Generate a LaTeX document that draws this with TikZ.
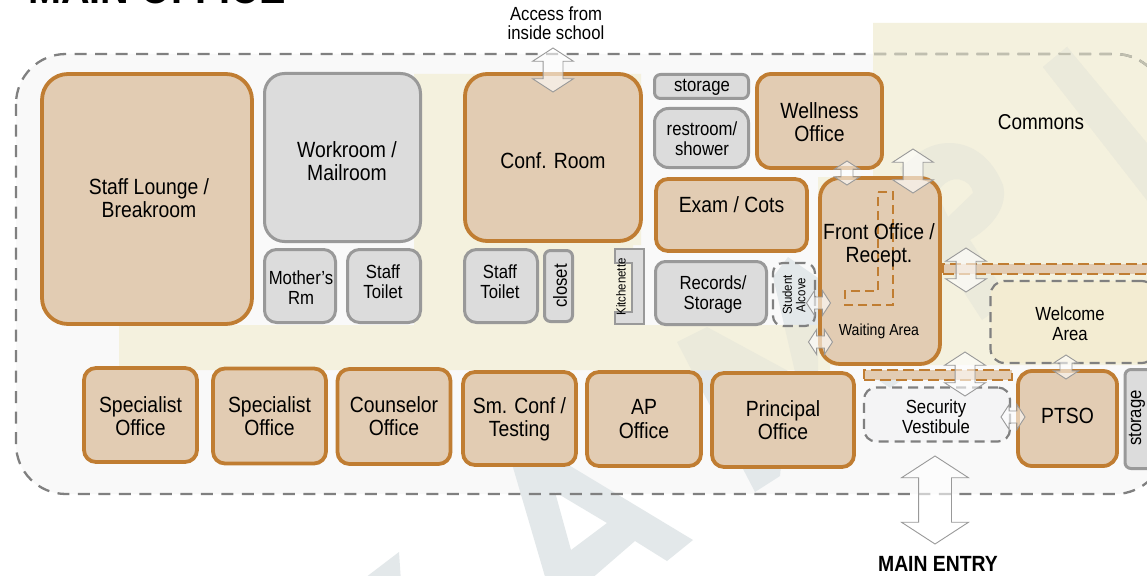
\documentclass[tikz,border=0pt]{standalone}
\usepackage{fontspec}
\setmainfont[FakeStretch=0.88]{Liberation Sans}
\usetikzlibrary{shapes.arrows}
\definecolor{plan-bg}{HTML}{F9F9F9}
\definecolor{plan-beige}{HTML}{F4F1DE}
\definecolor{plan-dash}{HTML}{808080}
\definecolor{plan-fade}{HTML}{C0BFAF}
\definecolor{plan-welcome}{HTML}{F3ECD2}
\definecolor{plan-lobby}{HTML}{F4F4F5}
\definecolor{mark-pale}{HTML}{E3E8EA}
\definecolor{mark-beige}{HTML}{EBEADB}
\definecolor{office-fill}{HTML}{E2CCB3}
\definecolor{office-line}{HTML}{C07D32}
\definecolor{utility-fill}{HTML}{DCDCDC}
\definecolor{utility-line}{HTML}{999999}
\newcommand{\fsize}[1]{\fontsize{#1}{#1}\selectfont\baselineskip=1.05\baselineskip}
% floor outline, commons backdrop, watermark
\newcommand{\floorpath}{(16,54) rectangle (1165,494)}
\newcommand{\commonspath}{(873,23) -- (1147,23) -- (1147,365) -- (830,365) -- (830,370) -- (119,370) -- (119,325) -- (414,325) -- (414,74) -- (641,74) -- (641,245) -- (633,245) -- (633,325) -- (818,325) -- (818,177) -- (873,177) -- cycle}
\newcommand{\markpath}{(500,423) -- (546,580) -- (590,580) -- (635,541) -- (667,561) -- (693,540) -- (572,467) -- cycle
  (555,492) -- (607,523) -- (571,550) -- cycle
  (399,552) -- (340,597) -- (402,597) -- cycle
  (677,342) -- (707,327) -- (790,372) -- (780,476) -- (755,492) -- cycle
  (788,257) -- (818,278) -- (818,372) -- (795,372) -- (773,277) -- cycle
  (875,378) -- (905,378) -- (890,388) -- cycle
  (900,168) -- (920,152) .. controls (945,135) and (985,140) .. (1003,185) .. controls (1008,205) and (995,225) .. (970,240) -- (1010,300) -- (982,320) -- (930,240) -- cycle
  (937,193) -- (948,217) -- (973,193) .. controls (972,180) and (950,170) .. (937,193) -- cycle
  (1067,47) -- (1043,67) -- (1150,204) -- (1150,147) -- cycle}
\tikzset{
  office/.style={draw=office-line, fill=office-fill, line width=3.8pt, align=center, inner sep=0pt, rounded corners=12pt, font=\fsize{22}},
  utility/.style={draw=utility-line, fill=utility-fill, line width=3pt, align=center, inner sep=0pt, rounded corners=12pt, font=\fsize{19}},
  zone/.style={draw=plan-dash, line width=2.2pt, dash pattern=on 10pt off 6pt, align=center, inner sep=0pt, rounded corners=14pt, font=\fsize{19}},
  corridor/.style={draw=office-line, fill=office-fill, line width=2pt, dash pattern=on 11pt off 5pt, inner sep=0pt},
  caption/.style={align=center, inner sep=0pt, font=\fsize{22}},
  smallcaption/.style={align=center, inner sep=0pt, font=\fsize{19}},
  dblarrow/.style={double arrow, draw=utility-line, fill=white, fill opacity=.6, line width=.9pt, inner xsep=0pt, double arrow tip angle=114, double arrow head indent=0pt},
  smallarrow/.style={dblarrow, inner ysep=5.5pt, minimum height=24pt, minimum width=25pt, double arrow head extend=6.5pt},
  bigarrow/.style={dblarrow, inner ysep=9.5pt, minimum height=44pt, minimum width=40pt, double arrow head extend=10.5pt, rotate=90},
}

\begin{document}
\begin{tikzpicture}[x=1pt, y=-1pt]
\useasboundingbox (0,0) rectangle (1147,575);
\clip (0,0) rectangle (1147,575);

% Backdrop
\fill[white] (0,0) rectangle (1147,575);
\fill[plan-bg, rounded corners=50pt] \floorpath;
\fill[mark-pale, even odd rule] \markpath;
\fill[plan-beige] \commonspath;
\begin{scope}
  \clip \commonspath;
  \fill[mark-beige, even odd rule] \markpath;
\end{scope}
\draw[plan-dash, line width=2.3pt, dash pattern=on 12pt off 8.5pt, rounded corners=50pt] \floorpath;
\begin{scope}
  \clip (873,23) rectangle (1147,365);
  \fill[mark-beige] (1067,47) -- (1043,67) -- (1150,204) -- (1150,147) -- cycle;
  \draw[plan-fade, line width=2.3pt, dash pattern=on 12pt off 8.5pt, rounded corners=50pt] \floorpath;
\end{scope}

% Title and outside labels
\node[anchor=base west, inner sep=0pt, font=\bfseries\fsize{45}] (title) at (28,4) {MAIN OFFICE};
\node[smallcaption, font=\fontsize{19}{19}\selectfont] (access) at (556,23.5) {Access from\\inside school};
\node[caption, font=\bfseries\fsize{22}] (entry) at (938,563.5) {MAIN ENTRY};
\node[caption, font=\fsize{21.5}] (commons) at (1041,122) {Commons};

% North block
\node[office, minimum width=210pt, minimum height=250pt, rounded corners=26pt] (lounge) at (147,199) {};
\node[caption] (loungetext) at (149,198) {Staff Lounge /\\Breakroom};
\node[utility, minimum width=156pt, minimum height=168pt, rounded corners=20pt] (workroom) at (342.5,157.5) {};
\node[caption] (workroomtext) at (347,161.5) {Workroom /\\Mailroom};
\node[utility, minimum width=71pt, minimum height=73pt] (mothers) at (300,286) {};
\node[smallcaption] (motherstext) at (301,287.5) {Mother's\\Rm};
\node[utility, minimum width=73pt, minimum height=73pt] (toileta) at (384,286) {};
\node[smallcaption] (toiletatext) at (383,282) {Staff\\Toilet};
\node[office, minimum width=176pt, minimum height=167pt, rounded corners=22pt] (conf) at (553,157.5) {};
\node[caption] (conftext) at (553,161) {Conf. Room};
\node[utility, minimum width=73pt, minimum height=73pt] (toiletb) at (501,286) {};
\node[smallcaption] (toiletbtext) at (500,282) {Staff\\Toilet};
\node[utility, minimum width=28pt, minimum height=71pt, rounded corners=6pt] (closet) at (558.5,286) {};
\node[smallcaption, rotate=90] (closettext) at (560,286) {closet};
\draw[utility-line, fill=utility-fill, line width=2.4pt] (615,249) -- (644,249) -- (644,324) -- (615,324) -- (615,312) -- (632,312) -- (632,263) -- (615,263) -- cycle;
\node[caption, font=\fsize{13}, rotate=90] (kitchen) at (621,287) {Kitchenette};
\node[utility, minimum width=94pt, minimum height=24pt, rounded corners=6pt] (storagea) at (701.5,86.5) {};
\node[smallcaption] (storageatext) at (702,87.5) {storage};
\node[utility, minimum width=94pt, minimum height=59pt, rounded corners=14pt] (restroom) at (701.5,138) {};
\node[smallcaption] (restroomtext) at (702,139) {restroom/\\shower};
\node[office, minimum width=125pt, minimum height=94pt, rounded corners=14pt] (wellness) at (819.5,121) {};
\node[caption] (wellnesstext) at (819.5,122) {Wellness\\Office};
\node[office, minimum width=151pt, minimum height=72pt] (exam) at (731.5,215) {};
\node[caption] (examtext) at (731.5,205) {Exam / Cots};
\node[utility, minimum width=111pt, minimum height=63pt, rounded corners=10pt] (records) at (711,293) {};
\node[smallcaption] (recordstext) at (713,295) {Records/\\Storage};
\node[zone, minimum width=42pt, minimum height=63pt, rounded corners=10pt] (alcove) at (794,294.5) {};
\node[caption, font=\fsize{13}, rotate=90] (alcovetext) at (794,295) {Student\\Alcove};

% Corridors
\node[corridor, minimum width=220pt, minimum height=10pt] (corridora) at (1053,269) {};
\node[corridor, minimum width=148pt, minimum height=10pt] (corridorb) at (938,375) {};

% Front office
\node[office, minimum width=120pt, minimum height=186pt, rounded corners=20pt] (front) at (880,271) {};
\draw[office-line, line width=1.6pt, dash pattern=on 9pt off 5pt] (878,192) -- (893,192) -- (893,305) -- (845,305) -- (845,291) -- (878,291) -- cycle;
\node[caption] (fronttext) at (879,245) {Front Office /\\Recept.};
\node[caption, font=\fsize{16}] (waiting) at (879,331) {Waiting Area};
\node[zone, fill=plan-welcome, minimum width=165pt, minimum height=82pt] (welcome) at (1073,322) {};
\node[smallcaption] (welcometext) at (1070,324) {Welcome\\Area};

% South row
\node[office, minimum width=113pt, minimum height=94pt] (speca) at (140.5,415) {};
\node[caption] (specatext) at (140.5,416) {Specialist\\Office};
\node[office, minimum width=113pt, minimum height=95pt] (specb) at (269.5,416) {Specialist\\Office};
\node[office, minimum width=113pt, minimum height=95pt] (counselor) at (394,416.5) {Counselor\\Office};
\node[office, minimum width=113pt, minimum height=93pt] (smconf) at (519.5,418.5) {};
\node[caption] (smconftext) at (519.5,419.5) {Sm. Conf /\\Testing};
\node[office, minimum width=114pt, minimum height=94pt] (ap) at (644,419) {AP\\Office};
\node[office, minimum width=142pt, minimum height=94pt] (principal) at (783,420) {Principal\\Office};
\node[zone, fill=plan-lobby, minimum width=146pt, minimum height=54pt, rounded corners=12pt] (vestibule) at (937,414.5) {};
\node[smallcaption] (vestibuletext) at (936,417) {Security\\Vestibule};
\node[office, minimum width=99pt, minimum height=95pt, rounded corners=14pt] (ptso) at (1067.5,418.5) {};
\node[caption] (ptsotext) at (1067.5,416) {PTSO};
\node[utility, minimum width=30pt, minimum height=99pt, rounded corners=6pt] (storageb) at (1140,419) {};
\node[smallcaption, rotate=90] (storagebtext) at (1137,418) {storage};

% Doors
\node[bigarrow] (dooraccess) at (553,70) {};
\node[smallarrow, rotate=90] (doorwellness) at (847,173) {};
\node[bigarrow] (doorcommons) at (913,171) {};
\node[bigarrow] (doorcorridor) at (966,270) {};
\node[smallarrow] (dooralcove) at (818.5,303) {};
\node[smallarrow] (doorsouth) at (820.5,342) {};
\node[bigarrow] (doorvestibule) at (965,374) {};
\node[smallarrow, rotate=90] (doorwelcome) at (1066,367) {};
\node[smallarrow] (doorptso) at (1013,417) {};
\node[dblarrow, inner ysep=16pt, rotate=90, minimum height=88pt, minimum width=66pt, double arrow head extend=17pt] (doorentry) at (935,500) {};
\end{tikzpicture}
\end{document}
